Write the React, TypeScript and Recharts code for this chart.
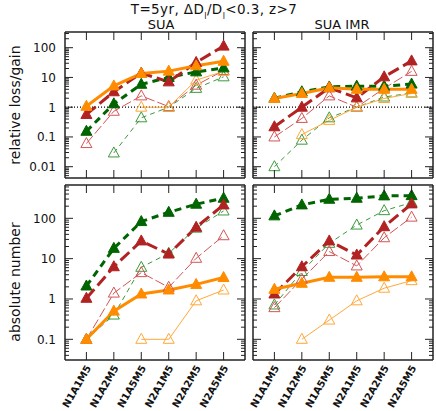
import React from 'react';
import { LineChart, Line, XAxis, YAxis, ReferenceLine } from 'recharts';

const categories = ['N1A1M5', 'N1A2M5', 'N1A5M5', 'N2A1M5', 'N2A2M5', 'N2A5M5'];
const xTicks = [1, 2, 3, 4, 5, 6];

// relative loss/gain, SUA
const relSuaRed = [0.57, 3.3, 14, 7.1, 32, 113];
const relSuaRedOpen = [0.06, 0.73, 2.4, 1.05, 5.5, 17];
const relSuaGreen = [0.155, 1.3, 5.9, 10, 15.4, 21];
const relSuaGreenOpen = [null, 0.029, 0.44, 1.0, 4.3, 10.5];
const relSuaOrange = [1.07, 5.2, 13.6, 16.3, 24.6, 35];
const relSuaOrangeOpen = [null, null, 1.0, 1.0, 8.1, 16];

// relative loss/gain, SUA IMR
const relImrRed = [0.22, 1.0, 4.5, 2.06, 10.5, 36];
const relImrRedOpen = [0.1, 0.42, 2.4, 1.0, 4.3, 16];
const relImrGreen = [2.0, 3.3, 4.8, 5.1, 5.1, 6.0];
const relImrGreenOpen = [0.01, 0.078, 0.44, 1.0, 2.2, 3.0];
const relImrOrange = [1.96, 2.9, 4.5, 4.0, 4.0, 4.0];
const relImrOrangeOpen = [null, 0.12, 0.36, 1.0, 1.96, 2.9];

// absolute number, SUA
const absSuaRed = [1.04, 6.3, 27.5, 13, 60, 215];
const absSuaRedOpen = [0.1, 1.4, 4.5, 1.95, 10.2, 37];
const absSuaGreen = [2.1, 18, 83, 141, 224, 315];
const absSuaGreenOpen = [0.1, 0.4, 6.1, 13.6, 57, 152];
const absSuaOrange = [0.1, 0.5, 1.33, 1.67, 2.3, 3.4];
const absSuaOrangeOpen = [null, null, 0.1, 0.1, 0.9, 1.67];

// absolute number, SUA IMR
const absImrRed = [1.33, 6.3, 27.5, 12.3, 62, 228];
const absImrRedOpen = [0.61, 3.1, 15, 6.6, 33, 107];
const absImrGreen = [115, 215, 297, 315, 360, 365];
const absImrGreenOpen = [0.71, 4.8, 24, 68, 155, 245];
const absImrOrange = [1.74, 2.45, 3.45, 3.45, 3.55, 3.55];
const absImrOrangeOpen = [null, 0.1, 0.3, 0.9, 1.85, 2.85];

const relMajors = [0.01, 0.1, 1, 10, 100];
const absMajors = [0.1, 1, 10, 100];
const relDomain = [0.00417, 337];
const absDomain = [0.0307, 670];

const RED = '#b22222';
const RED_L = '#d35555';
const GREEN = '#006400';
const GREEN_L = '#3c9a3c';
const ORANGE = '#ff8c00';
const ORANGE_L = '#ffa83a';
const FONT = '"DejaVu Sans", sans-serif';

function logTicks(lo: number, hi: number) {
  const out: number[] = [];
  for (let e = -3; e <= 3; e++) {
    for (let m = 1; m <= 9; m++) {
      const v = parseFloat((m * Math.pow(10, e)).toPrecision(3));
      if (v >= lo && v <= hi) out.push(v);
    }
  }
  return out;
}

function makeRows(r, ro, g, go, o, oo) {
  return categories.map((c, i) => ({
    x: i + 1, name: c,
    r: r[i], ro: ro[i], g: g[i], go: go[i], o: o[i], oo: oo[i],
  }));
}

function tri(color: string, filled: boolean) {
  return (p: any) => {
    const { cx, cy, index } = p;
    if (cx == null || cy == null || isNaN(cy) || p.value == null) return <g key={index} />;
    const s = 5.5;
    const pts = `${cx - s},${cy + 4} ${cx + s},${cy + 4} ${cx},${cy - 6}`;
    return (
      <polygon key={index} points={pts} fill={filled ? color : 'none'} stroke={color}
        strokeWidth={1} strokeLinejoin="miter" />
    );
  };
}

function YTick(props: any) {
  const { x, y, payload, side, labels, majors } = props;
  const v = payload.value;
  const major = majors.includes(v);
  const len = major ? 8 : 4;
  const dir = side === 'left' ? 1 : -1;
  return (
    <g>
      <line x1={x} x2={x + dir * len} y1={y} y2={y} stroke="#222" strokeWidth={1} />
      {labels && major && (
        <text x={x - 9} y={y} dy="0.36em" textAnchor="end" fontSize={12} fontFamily={FONT} fill="#111">
          {String(v)}
        </text>
      )}
    </g>
  );
}

function XTick(props: any) {
  const { x, y, payload, side, labels } = props;
  const dir = side === 'bottom' ? -1 : 1;
  return (
    <g>
      <line x1={x} x2={x} y1={y} y2={y + dir * 8} stroke="#222" strokeWidth={1} />
      {labels && (
        <text transform={`translate(${x + 2},${y + 6}) rotate(-60)`} textAnchor="end" dy="0.36em"
          fontSize={10} fontWeight="bold" fontFamily={FONT} fill="#111">
          {categories[payload.value - 1]}
        </text>
      )}
    </g>
  );
}

function Panel({ x, y, w, h, rows, domain, majors, yLabels, xLabels, refOne }) {
  const WL = yLabels ? 60 : 30;
  const HT = 4;
  const HB = xLabels ? 51 : 4;
  const WR = 4;
  const minors = logTicks(domain[0], domain[1]);
  return (
    <div style={{ position: 'absolute', left: x - WL, top: y - HT }}>
      <LineChart width={WL + w + WR} height={HT + h + HB} data={rows}
        margin={{ top: 0, right: 0, bottom: 0, left: 0 }}>
        <XAxis xAxisId="b" dataKey="x" type="number" orientation="bottom" domain={[0.22, 6.78]}
          allowDataOverflow ticks={xTicks} interval={0} height={HB} tickSize={0} tickMargin={0}
          tickLine={false} axisLine={{ stroke: '#222', strokeWidth: 1.5 }}
          tick={(p: any) => <XTick {...p} side="bottom" labels={xLabels} />} />
        <XAxis xAxisId="t" dataKey="x" type="number" orientation="top" domain={[0.22, 6.78]}
          allowDataOverflow ticks={xTicks} interval={0} height={HT} tickSize={0} tickMargin={0}
          tickLine={false} axisLine={{ stroke: '#222', strokeWidth: 1.5 }}
          tick={(p: any) => <XTick {...p} side="top" labels={false} />} />
        <YAxis yAxisId="l" orientation="left" type="number" scale="log" domain={domain}
          allowDataOverflow ticks={minors} interval={0} width={WL} tickSize={0} tickMargin={0}
          tickLine={false} axisLine={{ stroke: '#222', strokeWidth: 1.5 }}
          tick={(p: any) => <YTick {...p} side="left" labels={yLabels} majors={majors} />} />
        <YAxis yAxisId="r" orientation="right" type="number" scale="log" domain={domain}
          allowDataOverflow ticks={minors} interval={0} width={WR} tickSize={0} tickMargin={0}
          tickLine={false} axisLine={{ stroke: '#222', strokeWidth: 1.5 }}
          tick={(p: any) => <YTick {...p} side="right" labels={false} majors={majors} />} />
        {refOne && (
          <ReferenceLine xAxisId="b" yAxisId="l" y={1} stroke="#000" strokeWidth={1.2} strokeDasharray="1 2" />
        )}
        <Line xAxisId="b" yAxisId="l" dataKey="go" stroke={GREEN_L} strokeWidth={1} strokeDasharray="5 4"
          dot={tri(GREEN_L, false)} activeDot={false} isAnimationActive={false} />
        <Line xAxisId="b" yAxisId="l" dataKey="ro" stroke={RED_L} strokeWidth={1} strokeDasharray="10 3"
          dot={tri(RED_L, false)} activeDot={false} isAnimationActive={false} />
        <Line xAxisId="b" yAxisId="l" dataKey="oo" stroke={ORANGE_L} strokeWidth={1}
          dot={tri(ORANGE_L, false)} activeDot={false} isAnimationActive={false} />
        <Line xAxisId="b" yAxisId="l" dataKey="g" stroke={GREEN} strokeWidth={3} strokeDasharray="7 5"
          dot={tri(GREEN, true)} activeDot={false} isAnimationActive={false} />
        <Line xAxisId="b" yAxisId="l" dataKey="r" stroke={RED} strokeWidth={3} strokeDasharray="12 5"
          dot={tri(RED, true)} activeDot={false} isAnimationActive={false} />
        <Line xAxisId="b" yAxisId="l" dataKey="o" stroke={ORANGE} strokeWidth={3}
          dot={tri(ORANGE, true)} activeDot={false} isAnimationActive={false} />
      </LineChart>
    </div>
  );
}

export default function App() {
  const relSua = makeRows(relSuaRed, relSuaRedOpen, relSuaGreen, relSuaGreenOpen, relSuaOrange, relSuaOrangeOpen);
  const relImr = makeRows(relImrRed, relImrRedOpen, relImrGreen, relImrGreenOpen, relImrOrange, relImrOrangeOpen);
  const absSua = makeRows(absSuaRed, absSuaRedOpen, absSuaGreen, absSuaGreenOpen, absSuaOrange, absSuaOrangeOpen);
  const absImr = makeRows(absImrRed, absImrRedOpen, absImrGreen, absImrGreenOpen, absImrOrange, absImrOrangeOpen);
  return (
    <div style={{ position: 'absolute', left: 0, top: 0, width: 436, height: 411, background: '#fff', fontFamily: FONT }}>
      <Panel x={65} y={32} w={180} h={146} rows={relSua} domain={relDomain} majors={relMajors} yLabels xLabels={false} refOne />
      <Panel x={253} y={32} w={180} h={146} rows={relImr} domain={relDomain} majors={relMajors} yLabels={false} xLabels={false} refOne />
      <Panel x={65} y={185} w={180} h={175} rows={absSua} domain={absDomain} majors={absMajors} yLabels xLabels refOne={false} />
      <Panel x={253} y={185} w={180} h={175} rows={absImr} domain={absDomain} majors={absMajors} yLabels={false} xLabels refOne={false} />
      <svg width={436} height={411} style={{ position: 'absolute', left: 0, top: 0, pointerEvents: 'none' }}>
        <text x={214} y={14} textAnchor="middle" fontSize={13.5} letterSpacing={0.4} fontFamily={FONT} fill="#111">
          T=5yr,  ΔD<tspan baselineShift="sub" fontSize={8}>l</tspan>/D<tspan baselineShift="sub" fontSize={8}>l</tspan>{'<0.3,  z>7'}
        </text>
        <text x={161} y={29} textAnchor="middle" fontSize={13} fontFamily={FONT} fill="#111">SUA</text>
        <text x={342} y={29} textAnchor="middle" fontSize={13} fontFamily={FONT} fill="#111">SUA IMR</text>
        <text transform="translate(20,105) rotate(-90)" textAnchor="middle" fontSize={14} fontFamily={FONT} fill="#111">relative loss/gain</text>
        <text transform="translate(20,282) rotate(-90)" textAnchor="middle" fontSize={14} fontFamily={FONT} fill="#111">absolute number</text>
      </svg>
    </div>
  );
}
